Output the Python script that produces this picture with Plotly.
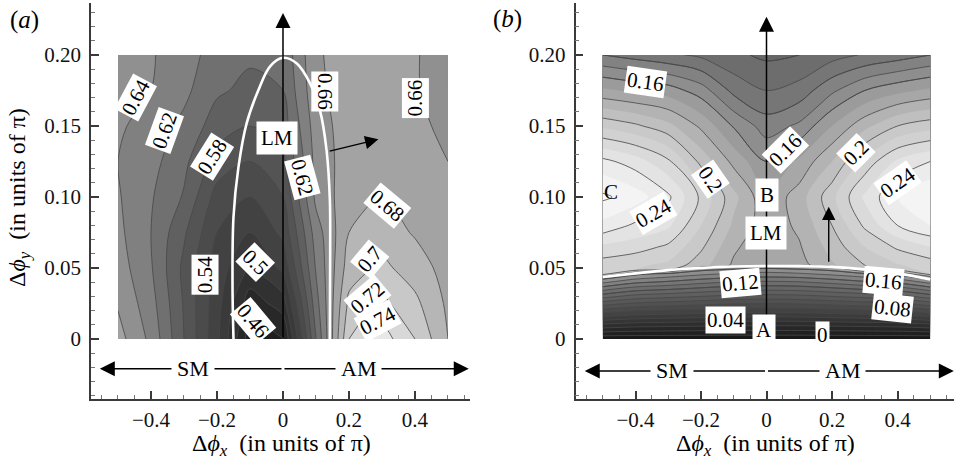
import plotly.graph_objects as go

# ---------------- Panel (a) data ----------------
xa = [-0.5, -0.4, -0.3, -0.2, -0.1, 0.0, 0.1, 0.2, 0.3, 0.4, 0.5]
ya = [0.0, 0.025, 0.05, 0.075, 0.1, 0.125, 0.15, 0.175, 0.2]
za = [
    [0.668, 0.635, 0.580, 0.525, 0.450, 0.458, 0.600, 0.720, 0.750, 0.720, 0.680],
    [0.658, 0.628, 0.578, 0.528, 0.468, 0.490, 0.612, 0.705, 0.725, 0.705, 0.676],
    [0.650, 0.622, 0.575, 0.532, 0.497, 0.525, 0.622, 0.690, 0.705, 0.690, 0.672],
    [0.645, 0.620, 0.583, 0.540, 0.520, 0.545, 0.630, 0.680, 0.690, 0.678, 0.668],
    [0.642, 0.622, 0.598, 0.552, 0.540, 0.560, 0.645, 0.672, 0.682, 0.672, 0.665],
    [0.640, 0.627, 0.605, 0.572, 0.560, 0.575, 0.647, 0.670, 0.675, 0.668, 0.660],
    [0.643, 0.632, 0.615, 0.590, 0.580, 0.590, 0.650, 0.670, 0.672, 0.665, 0.655],
    [0.646, 0.640, 0.625, 0.603, 0.595, 0.600, 0.655, 0.670, 0.672, 0.662, 0.650],
    [0.648, 0.642, 0.628, 0.612, 0.603, 0.605, 0.657, 0.670, 0.672, 0.662, 0.648],
]
# LM boundary (white curve) in panel (a)
lma_x = [-0.150, -0.153, -0.150, -0.135, -0.110, -0.075, -0.039, 0.0, 0.042, 0.082, 0.112, 0.132, 0.142, 0.143, 0.142]
lma_y = [0.0, 0.040, 0.086, 0.121, 0.152, 0.175, 0.192, 0.198, 0.194, 0.180, 0.161, 0.133, 0.098, 0.063, 0.0]
# contour labels panel (a): text, x, y, angle
labels_a = [
    ("0.64", -0.448, 0.170, -62), ("0.62", -0.358, 0.147, -70), ("0.58", -0.215, 0.128, -58),
    ("0.54", -0.236, 0.045, -90), ("0.5", -0.085, 0.054, 45), ("0.46", -0.090, 0.013, 50),
    ("0.62", 0.058, 0.114, 75), ("0.66", 0.127, 0.174, 90), ("0.66", 0.400, 0.170, -90),
    ("0.68", 0.318, 0.094, 40), ("0.7", 0.264, 0.056, -50), ("0.72", 0.255, 0.029, -40),
    ("0.74", 0.285, 0.013, -28),
]

# ---------------- Panel (b) data ----------------
xb = [-0.5, -0.4, -0.3, -0.2, -0.1, 0.0, 0.1, 0.2, 0.3, 0.4, 0.5]
yb = [0.0, 0.01, 0.02, 0.03, 0.04, 0.043, 0.046, 0.049, 0.052, 0.055, 0.065, 0.08, 0.1, 0.125, 0.15, 0.175, 0.2]
zb = [
    [0.002, 0.002, 0.002, 0.002, 0.002, 0.002, 0.002, 0.002, 0.002, 0.002, 0.002],
    [0.038, 0.035, 0.034, 0.033, 0.032, 0.032, 0.032, 0.033, 0.034, 0.035, 0.038],
    [0.076, 0.071, 0.069, 0.067, 0.065, 0.064, 0.065, 0.067, 0.069, 0.071, 0.077],
    [0.114, 0.106, 0.103, 0.100, 0.097, 0.096, 0.097, 0.100, 0.103, 0.106, 0.115],
    [0.152, 0.142, 0.138, 0.133, 0.129, 0.128, 0.129, 0.133, 0.138, 0.142, 0.153],
    [0.163, 0.153, 0.148, 0.143, 0.139, 0.138, 0.139, 0.143, 0.148, 0.153, 0.164],
    [0.210, 0.163, 0.158, 0.153, 0.149, 0.147, 0.149, 0.153, 0.158, 0.163, 0.210],
    [0.213, 0.210, 0.205, 0.163, 0.159, 0.157, 0.159, 0.163, 0.198, 0.206, 0.213],
    [0.215, 0.212, 0.207, 0.194, 0.178, 0.170, 0.176, 0.188, 0.200, 0.209, 0.215],
    [0.218, 0.214, 0.210, 0.196, 0.179, 0.170, 0.177, 0.190, 0.202, 0.212, 0.218],
    [0.228, 0.225, 0.218, 0.202, 0.182, 0.172, 0.179, 0.194, 0.210, 0.222, 0.230],
    [0.247, 0.238, 0.232, 0.210, 0.188, 0.174, 0.182, 0.200, 0.222, 0.240, 0.250],
    [0.262, 0.255, 0.242, 0.218, 0.193, 0.172, 0.185, 0.207, 0.232, 0.250, 0.260],
    [0.243, 0.235, 0.222, 0.197, 0.177, 0.160, 0.172, 0.190, 0.213, 0.232, 0.240],
    [0.208, 0.202, 0.193, 0.178, 0.159, 0.145, 0.152, 0.170, 0.187, 0.200, 0.206],
    [0.172, 0.168, 0.165, 0.155, 0.137, 0.130, 0.134, 0.148, 0.160, 0.167, 0.172],
    [0.140, 0.136, 0.132, 0.128, 0.122, 0.118, 0.120, 0.126, 0.131, 0.135, 0.140],
]
lmb_x = [-0.5, -0.4, -0.3, -0.2, -0.1, 0.0, 0.1, 0.2, 0.3, 0.4, 0.5]
lmb_y = [0.0437, 0.0462, 0.0485, 0.0500, 0.0510, 0.0514, 0.0513, 0.0508, 0.0490, 0.0462, 0.0420]
labels_b = [
    ("0.16", -0.369, 0.181, 8), ("0.16", 0.058, 0.133, -45), ("0.2", -0.171, 0.113, 55),
    ("0.2", 0.272, 0.131, -45), ("0.24", 0.399, 0.110, -35), ("0.24", -0.344, 0.0885, -30),
    ("0.12", -0.079, 0.0392, -5), ("0.04", -0.125, 0.0134, 0), ("0.16", 0.358, 0.0411, 5),
    ("0.08", 0.384, 0.0216, 6), ("0", 0.170, 0.0028, 0),
]

# tick labels
y_tickvals = [0, 0.05, 0.1, 0.15, 0.2]
y_ticktext = ["0", "0.05", "0.10", "0.15", "0.20"]
x_tickvals = [-0.4, -0.2, 0, 0.2, 0.4]
x_ticktext = ["\u22120.4", "\u22120.2", "0", "0.2", "0.4"]

SERIF = "Liberation Serif"
scale_a = [[0, "rgb(22,22,22)"], [0.45, "rgb(90,90,90)"], [0.65, "rgb(145,145,145)"],
           [0.8, "rgb(194,194,194)"], [1, "rgb(248,248,248)"]]
scale_b = [[0, "rgb(18,18,18)"], [0.5, "rgb(112,112,112)"], [0.75, "rgb(194,194,194)"],
           [1, "rgb(253,253,253)"]]
LINE_GRAY = "rgba(72,72,72,0.9)"

fig = go.Figure()

# panel (a) filled contour
fig.add_trace(go.Contour(
    x=xa, y=ya, z=za, xaxis="x", yaxis="y",
    colorscale=scale_a, showscale=False,
    contours=dict(start=0.44, end=0.76, size=0.02, coloring="fill"),
    line=dict(color=LINE_GRAY, width=0.9, smoothing=0.9), hoverinfo="skip"))
fig.add_trace(go.Scatter(x=lma_x, y=lma_y, mode="lines", xaxis="x", yaxis="y",
                         line=dict(color="white", width=2.6, shape="spline"), hoverinfo="skip"))

# panel (b): fill in 0.01 steps, lines 0.01 below the LM line and 0.02 above
fig.add_trace(go.Contour(
    x=xb, y=yb, z=zb, xaxis="x2", yaxis="y2",
    colorscale=scale_b, showscale=False,
    contours=dict(start=0.0, end=0.26, size=0.01, coloring="fill"),
    line=dict(width=0, smoothing=0.9), hoverinfo="skip"))
fig.add_trace(go.Contour(
    x=xb, y=yb, z=zb, xaxis="x2", yaxis="y2", showscale=False,
    contours=dict(start=0.01, end=0.16, size=0.01, coloring="none"),
    line=dict(color=LINE_GRAY, width=0.9, smoothing=0.9), hoverinfo="skip"))
fig.add_trace(go.Contour(
    x=xb, y=yb, z=zb, xaxis="x2", yaxis="y2", showscale=False,
    contours=dict(start=0.12, end=0.26, size=0.02, coloring="none"),
    line=dict(color=LINE_GRAY, width=0.9, smoothing=0.9), hoverinfo="skip"))
fig.add_trace(go.Scatter(x=lmb_x, y=lmb_y, mode="lines", xaxis="x2", yaxis="y2",
                         line=dict(color="white", width=2.6, shape="spline"), hoverinfo="skip"))

ann = []


def arrow(xr, yr, x0, y0, x1, y1, w=1.5, size=2.0):
    ann.append(dict(xref=xr, yref=yr, axref=xr, ayref=yr, x=x1, y=y1, ax=x0, ay=y0,
                    text="", showarrow=True, arrowhead=2, arrowsize=size, arrowwidth=w,
                    arrowcolor="black", standoff=0, startstandoff=0))


def label(xr, yr, txt, x, y, ang=0, size=21, bg="white", pad=1):
    ann.append(dict(xref=xr, yref=yr, x=x, y=y, text=txt, showarrow=False, textangle=ang,
                    xanchor="center", yanchor="middle",
                    font=dict(family=SERIF, size=size, color="black"),
                    bgcolor=bg, borderpad=pad))


# panel (a) annotations
arrow("x", "y", 0.0, 0.0, 0.0, 0.2296)
arrow("x", "y", 0.137, 0.132, 0.289, 0.1406, w=1.4, size=1.9)
for t, x, y, a in labels_a:
    label("x", "y", t, x, y, a)
label("x", "y", "LM", -0.019, 0.1413, 0, size=21, pad=4)
arrow("x", "y", 0.0, -0.021, -0.555, -0.021)
arrow("x", "y", 0.0, -0.021, 0.563, -0.021)
label("x", "y", "SM", -0.273, -0.021, 0, size=22, pad=5)
label("x", "y", "AM", 0.228, -0.021, 0, size=22, pad=5)

# panel (b) annotations
arrow("x2", "y2", 0.0, 0.0, 0.0, 0.227)
arrow("x2", "y2", 0.19, 0.0533, 0.19, 0.0932, w=1.4, size=1.9)
for t, x, y, a in labels_b:
    label("x2", "y2", t, x, y, a)
label("x2", "y2", "C", -0.476, 0.1037, 0, size=21, bg="rgba(0,0,0,0)")
label("x2", "y2", "B", 0.002, 0.1014, 0, size=21, pad=4)
label("x2", "y2", "LM", -0.003, 0.0749, 0, size=21, pad=4)
label("x2", "y2", "A", -0.008, 0.0063, 0, size=21, pad=3)
arrow("x2", "y2", 0.0, -0.0225, -0.555, -0.0225)
arrow("x2", "y2", 0.0, -0.0225, 0.572, -0.0225)
label("x2", "y2", "SM", -0.288, -0.0225, 0, size=22, pad=5)
label("x2", "y2", "AM", 0.233, -0.0225, 0, size=22, pad=5)

# titles and panel letters
xtitle = "\u0394<i>\u03d5<sub>x</sub></i>  (in units of \u03c0)"
ytitle = "\u0394<i>\u03d5<sub>y</sub></i>  (in units of \u03c0)"


def paper_text(txt, px, py, ang=0, size=25):
    ann.append(dict(xref="paper", yref="paper", x=px / 954, y=1 - py / 460, text=txt, showarrow=False,
                    textangle=ang, xanchor="center", yanchor="middle",
                    font=dict(family=SERIF, size=size, color="black")))


paper_text(xtitle, 281, 445, size=24)
paper_text(xtitle, 765, 445, size=24)
paper_text(ytitle, 19, 198, ang=-90, size=24)
paper_text("(<i>a</i>)", 24, 20)
paper_text("(<i>b</i>)", 507, 19)

axis_common = dict(showline=True, linecolor="#3a3a3a", linewidth=1.6, ticks="inside", ticklen=8,
                   tickwidth=1.5, tickcolor="#3a3a3a", showgrid=False, zeroline=False,
                   tickfont=dict(family=SERIF, size=21, color="#111"), tickmode="array")
yminor = dict(ticks="inside", ticklen=4, tickwidth=1, tickcolor="#777", tickmode="linear", tick0=0, dtick=0.01)
xminor = dict(ticks="inside", ticklen=4, tickwidth=1, tickcolor="#777", tickmode="linear", tick0=0, dtick=0.05)

fig.update_layout(
    width=954, height=460, margin=dict(l=0, r=0, t=0, b=0),
    paper_bgcolor="white", plot_bgcolor="white", showlegend=False,
    xaxis=dict(domain=[91 / 954, 470 / 954], range=[-0.5818, 0.5667], anchor="y",
               tickvals=x_tickvals, ticktext=x_ticktext, minor=xminor, ticklabelstandoff=1, **axis_common),
    yaxis=dict(domain=[61.5 / 460, 457 / 460], range=[-0.0419, 0.2366], anchor="x",
               tickvals=y_tickvals, ticktext=y_ticktext, minor=yminor, ticklabelstandoff=4, **axis_common),
    xaxis2=dict(domain=[575.5 / 954, 1.0], range=[-0.5832, 0.5725], anchor="y2",
                tickvals=x_tickvals, ticktext=x_ticktext, minor=xminor, ticklabelstandoff=1, **axis_common),
    yaxis2=dict(domain=[61.5 / 460, 457 / 460], range=[-0.0419, 0.2366], anchor="x2",
                tickvals=y_tickvals, ticktext=y_ticktext, minor=yminor, ticklabelstandoff=4, **axis_common),
    annotations=ann,
)

fig.write_html("out.html")
